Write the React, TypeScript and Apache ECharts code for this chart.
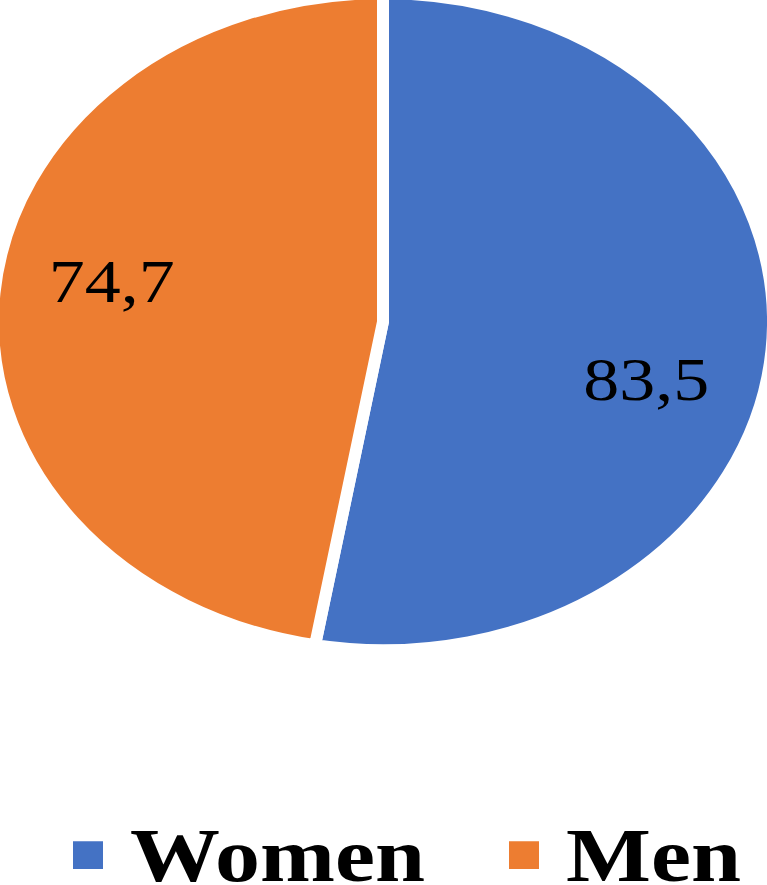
import React, { useEffect, useRef } from "react";
import * as echarts from "echarts";

const categories = ["Women", "Men"];
const values = [83.5, 74.7];
const labels = ["83,5", "74,7"];
const colors = ["#4472C4", "#ED7D31"];

const SY = 0.84;

export default function App() {
  const ref = useRef<HTMLDivElement>(null);
  useEffect(() => {
    document.body.style.margin = "0";
    if (!ref.current) return;
    const chart = echarts.init(ref.current, null, { renderer: "svg" });
    chart.setOption({
      animation: false,
      color: colors,
      legend: {
        data: categories,
        left: 66,
        top: 968,
        itemWidth: 32,
        itemHeight: 35,
        itemGap: 82,
        icon: "rect",
        textStyle: {
          fontFamily: "Liberation Serif",
          fontWeight: "bold",
          fontSize: 90,
          lineHeight: 76,
          color: "#000",
          padding: [0, 0, 0, 21],
        },
      },
      series: [
        {
          type: "pie",
          center: [383, 383],
          radius: 390,
          startAngle: 90,
          clockwise: true,
          itemStyle: { borderColor: "#fff", borderWidth: 12 },
          label: {
            show: true,
            position: "inside",
            formatter: (p: any) => labels[p.dataIndex],
            fontFamily: "Liberation Serif",
            fontSize: 72,
            color: "#000",
          },
          labelLayout: (p: any) =>
            p.dataIndex === 0 ? { dx: 66, dy: 51 } : { dx: -74, dy: -31 },
          labelLine: { show: false },
          emphasis: { disabled: true },
          data: categories.map((c, i) => ({ name: c, value: values[i] })),
        },
      ],
    });
    return () => chart.dispose();
  }, []);
  return (
    <div
      style={{
        position: "fixed",
        left: 0,
        top: 0,
        width: 767,
        height: 885,
        overflow: "hidden",
        background: "#fff",
      }}
    >
      <div
        ref={ref}
        style={{
          width: 767,
          height: 885 / SY,
          transform: `scaleY(${SY})`,
          transformOrigin: "top left",
        }}
      />
    </div>
  );
}
